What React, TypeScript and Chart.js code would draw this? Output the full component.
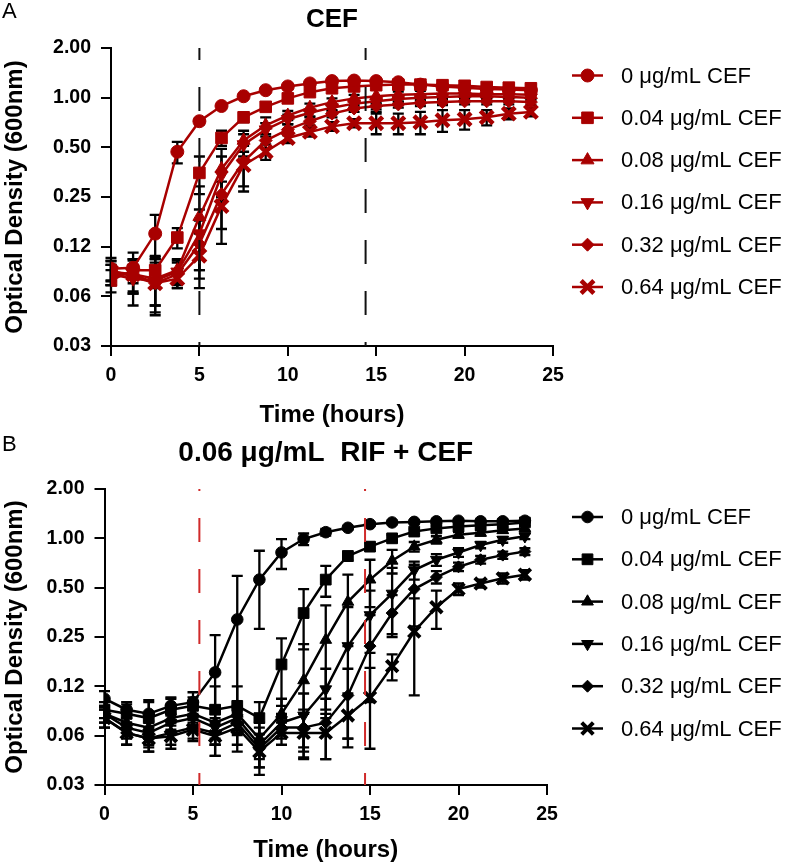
import React, { useEffect, useRef } from 'react';
import { Chart, registerables } from 'chart.js';
import { drawPoint } from 'chart.js/helpers';

Chart.register(...registerables);

// ---------- data ----------
const TIMES = [0, 1.25, 2.5, 3.75, 5, 6.25, 7.5, 8.75, 10, 11.25, 12.5, 13.75, 15, 16.25, 17.5, 18.75, 20, 21.25, 22.5, 23.75];
const SERIES_LABELS = ['0 μg/mL CEF', '0.04 μg/mL CEF', '0.08 μg/mL CEF', '0.16 μg/mL CEF', '0.32 μg/mL CEF', '0.64 μg/mL CEF'];

// Panel A: CEF alone
const A_CEF_0 = [0.092, 0.093, 0.15, 0.47, 0.72, 0.89, 1.02, 1.11, 1.17, 1.22, 1.26, 1.27, 1.26, 1.24, 1.2, 1.17, 1.15, 1.13, 1.12, 1.11];
const A_CEF_004 = [0.078, 0.09, 0.09, 0.142, 0.35, 0.57, 0.76, 0.88, 0.99, 1.08, 1.14, 1.17, 1.19, 1.2, 1.2, 1.19, 1.18, 1.16, 1.15, 1.14];
const A_CEF_008 = [0.085, 0.085, 0.08, 0.09, 0.19, 0.37, 0.55, 0.68, 0.78, 0.87, 0.94, 0.99, 1.02, 1.04, 1.05, 1.06, 1.06, 1.05, 1.05, 1.04];
const A_CEF_016 = [0.085, 0.08, 0.078, 0.088, 0.15, 0.34, 0.52, 0.64, 0.74, 0.81, 0.87, 0.92, 0.95, 0.98, 1.0, 1.01, 1.02, 1.02, 1.01, 1.0];
const A_CEF_032 = [0.09, 0.082, 0.075, 0.085, 0.13, 0.26, 0.41, 0.55, 0.64, 0.72, 0.8, 0.86, 0.89, 0.91, 0.93, 0.94, 0.95, 0.95, 0.95, 0.94];
const A_CEF_064 = [0.088, 0.085, 0.075, 0.08, 0.11, 0.22, 0.39, 0.47, 0.57, 0.62, 0.67, 0.7, 0.7, 0.7, 0.71, 0.73, 0.74, 0.76, 0.8, 0.82];

const A_ERR_0 = [0.015, 0.01, 0.045, 0.07, 0.03, 0.03, 0.03, 0.02, 0.02, 0.02, 0.02, 0.02, 0.02, 0.02, 0.02, 0.02, 0.02, 0.02, 0.02, 0.02];
const A_ERR_004 = [0.012, 0.015, 0.02, 0.02, 0.09, 0.06, 0.05, 0.04, 0.03, 0.03, 0.03, 0.03, 0.04, 0.04, 0.04, 0.05, 0.05, 0.06, 0.06, 0.06];
const A_ERR_008 = [0.012, 0.03, 0.025, 0.015, 0.1, 0.12, 0.08, 0.08, 0.05, 0.05, 0.05, 0.05, 0.2, 0.05, 0.05, 0.05, 0.05, 0.05, 0.05, 0.05];
const A_ERR_016 = [0.012, 0.015, 0.03, 0.015, 0.06, 0.1, 0.08, 0.06, 0.05, 0.04, 0.04, 0.04, 0.04, 0.04, 0.04, 0.04, 0.04, 0.04, 0.04, 0.04];
const A_ERR_032 = [0.012, 0.015, 0.025, 0.015, 0.05, 0.1, 0.12, 0.1, 0.05, 0.04, 0.04, 0.04, 0.04, 0.04, 0.04, 0.04, 0.04, 0.04, 0.04, 0.04];
const A_ERR_064 = [0.015, 0.02, 0.02, 0.01, 0.04, 0.09, 0.12, 0.05, 0.04, 0.04, 0.04, 0.04, 0.1, 0.1, 0.11, 0.11, 0.1, 0.08, 0.06, 0.05];

// Panel B: 0.06 μg/mL RIF + CEF
const B_CEF_0 = [0.105, 0.09, 0.085, 0.095, 0.1, 0.152, 0.32, 0.56, 0.82, 0.99, 1.09, 1.16, 1.22, 1.25, 1.26, 1.27, 1.28, 1.27, 1.27, 1.28];
const B_CEF_004 = [0.09, 0.085, 0.08, 0.09, 0.095, 0.09, 0.095, 0.08, 0.17, 0.35, 0.56, 0.78, 0.89, 1.0, 1.1, 1.15, 1.18, 1.2, 1.22, 1.25];
const B_CEF_008 = [0.085, 0.075, 0.07, 0.08, 0.085, 0.075, 0.085, 0.06, 0.085, 0.136, 0.24, 0.41, 0.56, 0.73, 0.89, 0.98, 1.05, 1.08, 1.12, 1.15];
const B_CEF_016 = [0.085, 0.07, 0.065, 0.075, 0.08, 0.07, 0.08, 0.055, 0.075, 0.083, 0.12, 0.22, 0.34, 0.46, 0.64, 0.74, 0.82, 0.91, 0.98, 1.03];
const B_CEF_032 = [0.08, 0.065, 0.06, 0.065, 0.07, 0.065, 0.075, 0.052, 0.07, 0.07, 0.075, 0.11, 0.22, 0.35, 0.49, 0.58, 0.67, 0.74, 0.79, 0.83];
const B_CEF_064 = [0.08, 0.065, 0.06, 0.062, 0.068, 0.062, 0.07, 0.05, 0.065, 0.065, 0.065, 0.083, 0.107, 0.166, 0.27, 0.38, 0.49, 0.53, 0.57, 0.6];

const B_ERR_0 = [0.012, 0.01, 0.018, 0.012, 0.015, 0.105, 0.27, 0.28, 0.17, 0.08, 0.05, 0.03, 0.03, 0.03, 0.03, 0.03, 0.03, 0.03, 0.03, 0.03];
const B_ERR_004 = [0.01, 0.012, 0.02, 0.015, 0.012, 0.035, 0.03, 0.02, 0.075, 0.14, 0.12, 0.05, 0.05, 0.05, 0.04, 0.04, 0.04, 0.04, 0.04, 0.04];
const B_ERR_008 = [0.01, 0.01, 0.015, 0.012, 0.01, 0.02, 0.01, 0.015, 0.02, 0.09, 0.15, 0.19, 0.18, 0.12, 0.06, 0.05, 0.04, 0.04, 0.04, 0.04];
const B_ERR_016 = [0.01, 0.01, 0.012, 0.01, 0.01, 0.01, 0.012, 0.015, 0.01, 0.03, 0.04, 0.16, 0.14, 0.2, 0.08, 0.06, 0.05, 0.04, 0.04, 0.04];
const B_ERR_032 = [0.01, 0.01, 0.01, 0.01, 0.01, 0.01, 0.012, 0.012, 0.01, 0.02, 0.03, 0.05, 0.12, 0.1, 0.2, 0.05, 0.04, 0.04, 0.04, 0.04];
const B_ERR_064 = [0.01, 0.01, 0.01, 0.01, 0.01, 0.015, 0.015, 0.014, 0.01, 0.02, 0.02, 0.03, 0.055, 0.03, 0.16, 0.1, 0.04, 0.03, 0.04, 0.04];

const Y_TICK_VALUES = [0.03125, 0.0625, 0.125, 0.25, 0.5, 1, 2];
const Y_TICK_LABELS = ['0.03', '0.06', '0.12', '0.25', '0.50', '1.00', '2.00'];
const X_TICK_VALUES = [0, 5, 10, 15, 20, 25];
const DASH_TIMES_A = [5.0, 14.4];
const DASH_TIMES_B = [5.36, 14.72];

// ---------- styles ----------
const FONT = '"Liberation Sans", Arial, Helvetica, sans-serif';
const RED = '#a80000';
const POINT_STYLES = ['circle', 'rect', 'triangle', 'triangle', 'rectRot', 'crossRot'];
const ROTATIONS = [0, 0, 0, 180, 0, 0];

type PanelCfg = {
  top: number;
  letter: string;
  title: string;
  titleSize: number;
  titlePadTop: number;
  titlePadBottom: number;
  left: number;
  right: number;
  xScaleHeight: number;
  xTitlePadBottom: number;
  color: string;
  dashColor: string;
  dashTimes: number[];
  dashOffset: number;
  series: number[][];
  errors: number[][];
  radii: number[];
  crossWidth: number;
  legendTop: number;
  legendStep: number;
};

const PANEL_A: PanelCfg = {
  top: 0, letter: 'A', title: 'CEF', titleSize: 26, titlePadTop: 4, titlePadBottom: 12.8,
  left: 111, right: 553, xScaleHeight: 87, xTitlePadBottom: 3.5,
  color: RED, dashColor: '#111', dashTimes: DASH_TIMES_A, dashOffset: 12,
  series: [A_CEF_0, A_CEF_004, A_CEF_008, A_CEF_016, A_CEF_032, A_CEF_064],
  errors: [A_ERR_0, A_ERR_004, A_ERR_008, A_ERR_016, A_ERR_032, A_ERR_064],
  radii: [6.5, 8.2, 7.5, 7.5, 6.5, 9],
  crossWidth: 4.5,
  legendTop: 75.5, legendStep: 42.3,
};

const PANEL_B: PanelCfg = {
  top: 433, letter: 'B', title: '0.06 μg/mL  RIF + CEF', titleSize: 28, titlePadTop: 3, titlePadBottom: 19.4,
  left: 104.5, right: 547, xScaleHeight: 81, xTitlePadBottom: 1.6,
  color: '#000', dashColor: '#d02a2a', dashTimes: DASH_TIMES_B, dashOffset: 22,
  series: [B_CEF_0, B_CEF_004, B_CEF_008, B_CEF_016, B_CEF_032, B_CEF_064],
  errors: [B_ERR_0, B_ERR_004, B_ERR_008, B_ERR_016, B_ERR_032, B_ERR_064],
  radii: [5.8, 7.6, 6.8, 6.8, 6, 8.2],
  crossWidth: 4,
  legendTop: 84, legendStep: 42.3,
};

const H = 433;

function buildChart(canvas: HTMLCanvasElement, p: PanelCfg) {
  const datasets = p.series.map((vals, si) => ({
    label: SERIES_LABELS[si],
    data: vals.map((v, i) => ({ x: TIMES[i], y: v })),
    errors: p.errors[si],
    borderColor: p.color,
    backgroundColor: p.color,
    borderWidth: 2.5,
    pointStyle: POINT_STYLES[si],
    rotation: ROTATIONS[si],
    pointRadius: p.radii[si],
    pointBorderWidth: POINT_STYLES[si] === 'crossRot' ? p.crossWidth : 1,
    pointBackgroundColor: p.color,
    pointBorderColor: p.color,
    tension: 0,
  }));

  const errorBars = {
    id: 'errorBars',
    beforeDatasetsDraw(chart: any) {
      const ctx = chart.ctx;
      const ys = chart.scales.y;
      const xs = chart.scales.x;
      ctx.save();
      ctx.strokeStyle = '#000';
      ctx.lineWidth = 2.3;
      chart.data.datasets.forEach((ds: any) => {
        ds.data.forEach((pt: any, i: number) => {
          const e = ds.errors[i];
          if (!e) return;
          const x = xs.getPixelForValue(pt.x);
          const lo = Math.max(pt.y - e, 0.02);
          const yHi = ys.getPixelForValue(pt.y + e);
          const yLo = ys.getPixelForValue(lo);
          ctx.beginPath();
          ctx.moveTo(x, yHi);
          ctx.lineTo(x, yLo);
          ctx.moveTo(x - 5.5, yHi);
          ctx.lineTo(x + 5.5, yHi);
          ctx.moveTo(x - 5.5, yLo);
          ctx.lineTo(x + 5.5, yLo);
          ctx.stroke();
        });
      });
      ctx.restore();
    },
  };

  const dashLines = {
    id: 'dashLines',
    afterDatasetsDraw(chart: any) {
      const ctx = chart.ctx;
      const xs = chart.scales.x;
      const { top, bottom } = chart.chartArea;
      ctx.save();
      ctx.strokeStyle = p.dashColor;
      ctx.lineWidth = 2;
      ctx.setLineDash([24, 27]);
      ctx.lineDashOffset = p.dashOffset;
      p.dashTimes.forEach((t) => {
        const x = xs.getPixelForValue(t);
        ctx.beginPath();
        ctx.moveTo(x, top);
        ctx.lineTo(x, bottom);
        ctx.stroke();
      });
      ctx.restore();
    },
  };

  const legendAndLetter = {
    id: 'legendAndLetter',
    afterDraw(chart: any) {
      const ctx = chart.ctx;
      ctx.save();
      ctx.fillStyle = '#000';
      ctx.font = `22px ${FONT}`;
      ctx.textBaseline = 'middle';
      ctx.textAlign = 'left';
      ctx.fillText(p.letter, 2, 12);
      chart.data.datasets.forEach((ds: any, i: number) => {
        const y = p.legendTop + i * p.legendStep;
        ctx.strokeStyle = p.color;
        ctx.fillStyle = p.color;
        ctx.lineWidth = 2.5;
        ctx.setLineDash([]);
        ctx.beginPath();
        ctx.moveTo(572, y);
        ctx.lineTo(603, y);
        ctx.stroke();
        ctx.lineWidth = ds.pointBorderWidth;
        drawPoint(ctx, {
          pointStyle: ds.pointStyle,
          rotation: ds.rotation,
          radius: ds.pointRadius,
          borderWidth: ds.pointBorderWidth,
        } as any, 587.5, y);
        ctx.fillStyle = '#000';
        ctx.font = `22px ${FONT}`;
        ctx.fillText(ds.label, 621, y + 1);
      });
      ctx.restore();
    },
  };

  return new Chart(canvas, {
    type: 'line',
    data: { datasets: datasets as any },
    plugins: [errorBars, dashLines, legendAndLetter],
    options: {
      animation: false,
      responsive: false,
      devicePixelRatio: 1,
      layout: { padding: { left: 0, right: 800 - p.right, top: 0, bottom: 0 } },
      scales: {
        x: {
          type: 'linear',
          min: 0,
          max: 25,
          afterBuildTicks: (s: any) => { s.ticks = X_TICK_VALUES.map((v) => ({ value: v })); },
          afterFit: (s: any) => { s.height = p.xScaleHeight; },
          ticks: {
            color: '#000',
            padding: 8,
            font: { family: FONT, size: 19.5, weight: 'bold' },
            maxRotation: 0,
            callback: (v: any) => String(v),
          },
          grid: { drawOnChartArea: false, drawTicks: true, tickLength: 10, color: '#000', lineWidth: 2 },
          border: { display: true, color: '#000', width: 2 },
          title: {
            display: true,
            text: 'Time (hours)',
            color: '#000',
            font: { family: FONT, size: 24, weight: 'bold' },
            padding: { top: 0, bottom: p.xTitlePadBottom },
          },
        },
        y: {
          type: 'logarithmic',
          min: Y_TICK_VALUES[0],
          max: Y_TICK_VALUES[Y_TICK_VALUES.length - 1],
          afterBuildTicks: (s: any) => { s.ticks = Y_TICK_VALUES.map((v) => ({ value: v })); },
          afterFit: (s: any) => { s.width = p.left; },
          ticks: {
            color: '#000',
            padding: 10,
            font: { family: FONT, size: 19.5, weight: 'bold' },
            callback: (v: any) => Y_TICK_LABELS[Y_TICK_VALUES.indexOf(Number(v))] ?? '',
          },
          grid: { drawOnChartArea: false, drawTicks: true, tickLength: 10, color: '#000', lineWidth: 2 },
          border: { display: true, color: '#000', width: 2 },
          title: {
            display: true,
            text: 'Optical Density (600nm)',
            color: '#000',
            font: { family: FONT, size: 24, weight: 'bold' },
            padding: { top: 1, bottom: 0 },
          },
        },
      },
      plugins: {
        legend: { display: false },
        tooltip: { enabled: false },
        title: {
          display: true,
          text: p.title,
          fullSize: false,
          color: '#000',
          font: { family: FONT, size: p.titleSize, weight: 'bold' },
          padding: { top: p.titlePadTop, bottom: p.titlePadBottom },
        },
      },
    } as any,
  });
}

function Panel({ cfg }: { cfg: PanelCfg }) {
  const ref = useRef<HTMLCanvasElement>(null);
  useEffect(() => {
    const chart = buildChart(ref.current as HTMLCanvasElement, cfg);
    return () => chart.destroy();
  }, [cfg]);
  return (
    <div style={{ position: 'absolute', left: 0, top: cfg.top, width: 800, height: H }}>
      <canvas ref={ref} width={800} height={H} style={{ width: 800, height: H, display: 'block' }} />
    </div>
  );
}

export default function App() {
  return (
    <div style={{ position: 'absolute', left: 0, top: 0, width: 800, height: 866, background: '#fff' }}>
      <Panel cfg={PANEL_A} />
      <Panel cfg={PANEL_B} />
    </div>
  );
}
